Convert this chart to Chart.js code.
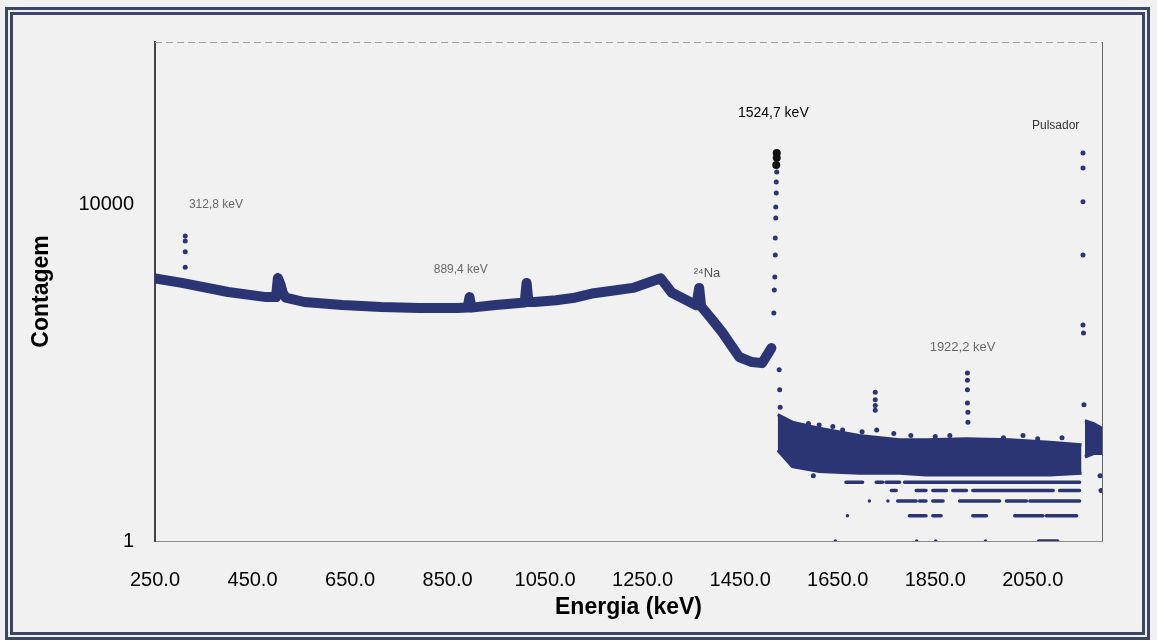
<!DOCTYPE html>
<html>
<head>
<meta charset="utf-8">
<title>Espectro gama</title>
<script src="https://cdn.jsdelivr.net/npm/chart.js@4.4.1/dist/chart.umd.min.js"></script>
<style>
  html, body { margin: 0; padding: 0; background: #f1f1f1; }
  #wrap { position: relative; width: 1157px; height: 640px; }
  #frame { position: absolute; left: 5px; top: 7px; width: 1129px; height: 617px;
           border: 8px double #3b4566; pointer-events: none; }
</style>
</head>
<body>
<div id="wrap">
  <canvas id="myChart" width="1157" height="640"></canvas>
  <div id="frame"></div>
</div>
<script>
// continuo do espectro (keV, contagem)
const continuumEnergy = [250,305,400,478,498,502,507,512,518,556,634,714,792,870,891,895,899,949,1008,1012,
                         1016,1029,1072,1107,1150,1230,1287,1310,1347,1360,1366,1370,1390,1413,1448,1474,1495,1514];
const continuumCount  = [1340,1180,920,800,800,1350,1150,900,790,700,646,610,594,594,600,800,600,646,690,1180,
                         700,700,735,780,890,1030,1340,900,700,640,1030,620,450,306,155,135,131,198];

// pico 312,8 keV
const peak312Energy = [312,312,312,312];
const peak312Count  = [4270,3720,2770,1820];

// pico 1524,7 keV
const peak1524Energy = [1519,1520,1521,1522,1522,1523,1523,1524,1524,1525,1530,1531,1532];
const peak1524Count  = [518,973,1390,2540,4050,7000,9460,13900,18800,24700,109,63,39];
const peakTopEnergy  = [1524,1525,1525];
const peakTopCount   = [29900,36600,41600];

// picos menores
const peak1730Energy = [1727,1727,1727,1727];
const peak1730Count  = [59,48,41,36];
const peak1922Energy = [1916,1916,1916,1916,1917,1917];
const peak1922Count  = [100,82,63,44,34,26];
const pulserEnergy   = [2153,2153,2153,2153,2153,2154,2155];
const pulserCount    = [41600,27600,10900,2540,373,300,42];

// banda de fundo acima de 1524 keV
const bandEnergy = [1527,1557,1612,1694,1777,1831,1914,2003,2085,2150];
const bandTop    = [32,26,22,18,16,16,16.5,16,15,14];
const bandBottom = [12,7.7,6.7,6.4,6.4,6.1,6.1,6.1,6.1,6.4];
const pulserBandEnergy = [2157,2175,2192];
const pulserBandTop    = [27,25,22];
const pulserBandBottom = [10,11,11];

// pontos soltos
const strayEnergy = [1568,1600,1590,1612,1640,1660,1700,1730,1765,1800,1850,1880,1990,2030,2060,2110,2188,2190];
const strayCount  = [7.7,6,25,24,23,21,20,21,19,18,17.5,18,17,18,16.5,17,6,4];

// linhas discretas de contagem baixa
const row5Segments = [[1667,1701],[1729,1742],[1749,1777],[1787,2146]];
const row4Segments = [[1760,1770],[1811,1831],[1845,1873],[1886,1914],[1927,2092],[2105,2146]];
const row3Segments = [[1715,1715],[1753,1753],[1773,1811],[1818,1831],[1845,1866],[1900,1982],[1996,2037],[2044,2146]];
const row2Segments = [[1670,1670],[1797,1831],[1845,1862],[1927,1955],[2013,2071],[2078,2140]];
const row1Segments = [[1645,1645],[1812,1812],[1851,1851],[1953,1953],[2062,2101]];

// eixos
const xTicks = [250,450,650,850,1050,1250,1450,1650,1850,2050];
const yTicks = [1,10000];

// rotulos dos picos
const labelTexts  = ['312,8 keV','889,4 keV','\u00B2\u2074Na','1524,7 keV','Pulsador','1922,2 keV'];
const labelEnergy = [375,877,1382,1518,2097,1906];
const labelCount  = [10000,1683,1550,124500,87600,204];

const NAVY = '#2b3573';
const FONT = "'Liberation Sans', Arial, sans-serif";

function pts(xs, ys) { return xs.map((x, i) => ({x: x, y: ys[i]})); }
function rowPts(segs, c) {
    const out = [];
    segs.forEach(s => { out.push({x: s[0], y: c}, {x: s[1], y: c}, {x: s[1], y: null}); });
    return out;
}
function rowSet(segs, c) {
    return { data: rowPts(segs, c), borderColor: NAVY, borderWidth: 3.5, borderCapStyle: 'round',
             pointRadius: 0, spanGaps: false, fill: false };
}
function dotSet(xs, ys, color, r) {
    return { data: pts(xs, ys), showLine: false, pointRadius: r, pointBackgroundColor: color,
             pointBorderWidth: 0, borderColor: color };
}

const plotFrame = {
    id: 'plotFrame',
    beforeDatasetsDraw(chart) {
        const {ctx, chartArea: a} = chart;
        ctx.save();
        ctx.strokeStyle = '#a0a0a0'; ctx.lineWidth = 1; ctx.setLineDash([7, 4]);
        ctx.beginPath(); ctx.moveTo(a.left, a.top + 0.5); ctx.lineTo(a.right, a.top + 0.5); ctx.stroke();
        ctx.setLineDash([]); ctx.strokeStyle = '#666';
        ctx.beginPath(); ctx.moveTo(a.right + 0.5, a.top); ctx.lineTo(a.right + 0.5, a.bottom); ctx.stroke();
        ctx.restore();
    }
};

const peakLabels = {
    id: 'peakLabels',
    afterDatasetsDraw(chart) {
        const {ctx, scales: {x, y}} = chart;
        const styles = [
            ['12px ' + FONT, '#6a6a6a'], ['12px ' + FONT, '#6a6a6a'], ['13px ' + FONT, '#555'],
            ['14px ' + FONT, '#000'], ['12px ' + FONT, '#333'], ['13px ' + FONT, '#6a6a6a']
        ];
        ctx.save();
        ctx.textAlign = 'center'; ctx.textBaseline = 'middle';
        labelTexts.forEach((t, i) => {
            ctx.font = styles[i][0]; ctx.fillStyle = styles[i][1];
            ctx.fillText(t, x.getPixelForValue(labelEnergy[i]), y.getPixelForValue(labelCount[i]));
        });
        ctx.restore();
    }
};

const ctx = document.getElementById('myChart').getContext('2d');
const myChart = new Chart(ctx, {
    type: 'line',
    data: {
        datasets: [
            { data: pts(continuumEnergy, continuumCount), borderColor: NAVY, borderWidth: 10,
              borderJoinStyle: 'round', borderCapStyle: 'round', pointRadius: 0, fill: false },
            { data: pts(bandEnergy, bandTop), borderColor: NAVY, borderWidth: 3, pointRadius: 0, fill: false },
            { data: pts(bandEnergy, bandBottom), borderColor: NAVY, borderWidth: 3, pointRadius: 0,
              fill: '-1', backgroundColor: NAVY },
            { data: pts(pulserBandEnergy, pulserBandTop), borderColor: NAVY, borderWidth: 3, pointRadius: 0, fill: false },
            { data: pts(pulserBandEnergy, pulserBandBottom), borderColor: NAVY, borderWidth: 3, pointRadius: 0,
              fill: '-1', backgroundColor: NAVY },
            rowSet(row5Segments, 5),
            rowSet(row4Segments, 4),
            rowSet(row3Segments, 3),
            rowSet(row2Segments, 2),
            rowSet(row1Segments, 1),
            dotSet(peak312Energy, peak312Count, NAVY, 2.5),
            dotSet(peak1524Energy, peak1524Count, NAVY, 2.5),
            dotSet(peakTopEnergy, peakTopCount, '#111', 4),
            dotSet(peak1730Energy, peak1730Count, NAVY, 2.5),
            dotSet(peak1922Energy, peak1922Count, NAVY, 2.5),
            dotSet(pulserEnergy, pulserCount, NAVY, 2.5),
            dotSet(strayEnergy, strayCount, NAVY, 2.5)
        ]
    },
    options: {
        responsive: false,
        animation: false,
        layout: { padding: { left: 28, right: 55, top: 42, bottom: 19 } },
        plugins: { legend: { display: false }, tooltip: { enabled: false } },
        scales: {
            x: {
                type: 'linear',
                min: 250,
                max: 2192,
                afterFit: s => { s.height = 80; },
                afterBuildTicks: s => { s.ticks = xTicks.map(v => ({value: v})); },
                grid: { display: false },
                border: { display: true, color: '#8a8a8a', width: 1 },
                ticks: { font: { family: FONT, size: 20 }, color: '#000', padding: 19, maxRotation: 0,
                         callback: v => Number(v).toFixed(1) },
                title: { display: true, text: 'Energia (keV)', color: '#000', padding: 0,
                         font: { family: FONT, size: 23, weight: 'bold' } }
            },
            y: {
                type: 'logarithmic',
                min: 1,
                max: 871000,
                afterFit: s => { s.width = 127; },
                afterBuildTicks: s => { s.ticks = yTicks.map(v => ({value: v})); },
                grid: { display: false },
                border: { display: true, color: '#444', width: 2 },
                ticks: { font: { family: FONT, size: 20 }, color: '#000', padding: 13,
                         callback: v => String(v) },
                title: { display: true, text: 'Contagem', color: '#000', padding: 0,
                         font: { family: FONT, size: 23, weight: 'bold' } }
            }
        }
    },
    plugins: [plotFrame, peakLabels]
});
</script>
</body>
</html>
